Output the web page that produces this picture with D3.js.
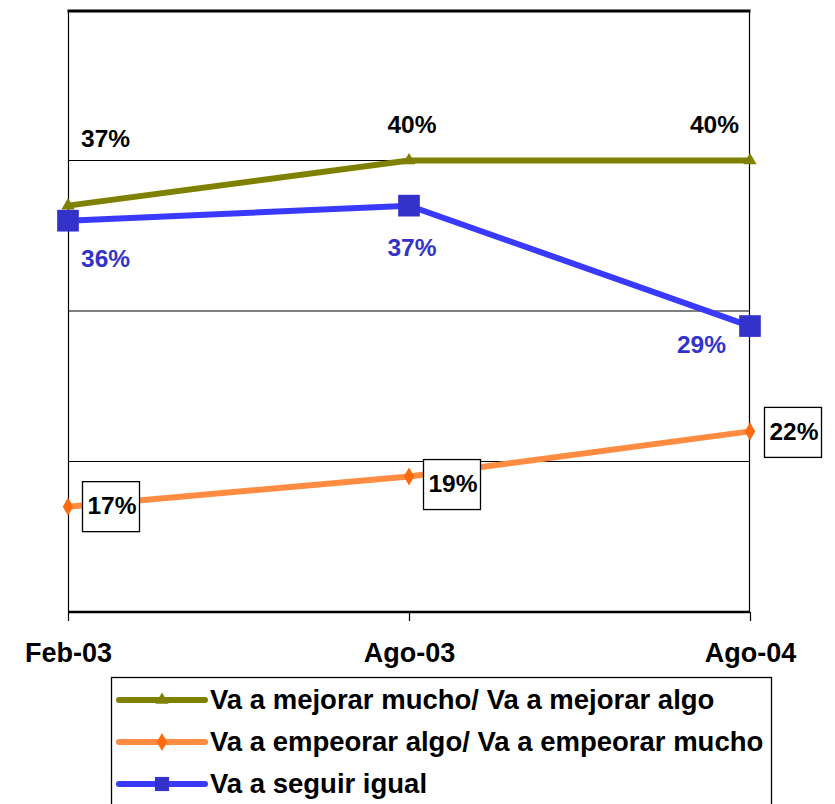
<!DOCTYPE html>
<html>
<head>
<meta charset="utf-8">
<script src="https://cdn.jsdelivr.net/npm/d3@7"></script>
<style>
  body { margin: 0; background: #fff; }
  text { font-family: "Liberation Sans", Arial, sans-serif; font-weight: bold; }
</style>
</head>
<body>
<svg id="chart" width="835" height="804"></svg>
<script>
"use strict"

// data
const periods = ["Feb-03", "Ago-03", "Ago-04"]
const mejorar = [37, 40, 40]
const empeorar = [17, 19, 22]
const igual = [36, 37, 29]
const seriesNames = [
    "Va a mejorar mucho/ Va a mejorar algo",
    "Va a empeorar algo/ Va a empeorar mucho",
    "Va a seguir igual"
]
const yTicks = [10, 20, 30, 40, 50]

const svg = d3.select("#chart")

let x = d3.scalePoint().domain(periods).range([68, 750]),
    y = d3.scaleLinear().domain([10, 50]).range([612, 10])

let line = d3.line()
    .x((d, i) => x(periods[i]))
    .y(d => y(d))

// gridlines (inner ones thin)
svg.append("g")
    .selectAll("line")
    .data(yTicks.slice(1, -1))
    .enter().append("line")
    .attr("x1", x.range()[0]).attr("x2", x.range()[1])
    .attr("y1", d => y(d)).attr("y2", d => y(d))
    .attr("stroke", "#000")
    .attr("stroke-width", 1.2)

// top border is heavier
svg.append("line")
    .attr("x1", 67.5).attr("x2", 750.5).attr("y1", y(50) + 1).attr("y2", y(50) + 1)
    .attr("stroke", "#000").attr("stroke-width", 3)

// left & right border
svg.append("line")
    .attr("x1", 68.5).attr("x2", 68.5).attr("y1", y(50)).attr("y2", y(10))
    .attr("stroke", "#000").attr("stroke-width", 1.2)
svg.append("line")
    .attr("x1", 749.5).attr("x2", 749.5).attr("y1", y(50)).attr("y2", y(10))
    .attr("stroke", "#000").attr("stroke-width", 1.2)

// bottom axis
let xAxis = d3.axisBottom(x).tickSize(9).tickPadding(22)
let gx = svg.append("g")
    .attr("transform", "translate(0," + y(10) + ")")
    .call(xAxis)
gx.select(".domain").attr("stroke-width", 2.5).attr("d", "M68,0H750")
gx.selectAll(".tick line").attr("stroke-width", 1.2)
gx.selectAll(".tick text")
    .attr("font-size", 27)
    .attr("font-family", "'Liberation Sans', Arial, sans-serif")
    .attr("font-weight", "bold")
    .attr("fill", "#000")

const series = [
    {name: seriesNames[0], values: mejorar, line: "#808000", fill: "#808000", symbol: d3.symbolTriangle, size: 75},
    {name: seriesNames[1], values: empeorar, line: "#FF8C40", fill: "#FF6A10", symbol: d3.symbolDiamond, size: 95},
    {name: seriesNames[2], values: igual, line: "#3a3aFF", fill: "#3333CC", symbol: d3.symbolSquare, size: 470}
]

// orange first, then green, blue squares sit on top
const drawOrder = [1, 0, 2]
drawOrder.forEach(k => {
    let s = series[k]
    svg.append("path")
        .attr("d", line(s.values))
        .attr("fill", "none")
        .attr("stroke", s.line)
        .attr("stroke-width", 6)
    svg.append("g")
        .selectAll("path")
        .data(s.values)
        .enter().append("path")
        .attr("transform", (d, i) => "translate(" + x(periods[i]) + "," + y(d) + ")")
        .attr("d", d3.symbol().type(s.symbol).size(s.size))
        .attr("fill", s.fill)
})

// labels, placed as in the original
const greenPos = [{dx: 13, dy: -59, a: "start"}, {dx: 3, dy: -28, a: "middle"}, {dx: -11, dy: -28, a: "end"}]
svg.append("g")
    .selectAll("text")
    .data(mejorar)
    .enter().append("text")
    .attr("x", (d, i) => x(periods[i]) + greenPos[i].dx)
    .attr("y", (d, i) => y(d) + greenPos[i].dy)
    .attr("text-anchor", (d, i) => greenPos[i].a)
    .attr("font-size", 24.5)
    .attr("fill", "#000")
    .text(d => d + "%")

const bluePos = [{dx: 13, dy: 46, a: "start"}, {dx: 3, dy: 50, a: "middle"}, {dx: -24, dy: 27, a: "end"}]
svg.append("g")
    .selectAll("text")
    .data(igual)
    .enter().append("text")
    .attr("x", (d, i) => x(periods[i]) + bluePos[i].dx)
    .attr("y", (d, i) => y(d) + bluePos[i].dy)
    .attr("text-anchor", (d, i) => bluePos[i].a)
    .attr("font-size", 24.5)
    .attr("fill", "#3333CC")
    .text(d => d + "%")

const orangeDy = [0, 8, 1]
let boxes = svg.append("g")
    .selectAll("g")
    .data(empeorar)
    .enter().append("g")
    .attr("transform", (d, i) => "translate(" + (x(periods[i]) + 14) + "," + (y(d) + orangeDy[i] - 25.5) + ")")
boxes.append("rect")
    .attr("x", 0.5).attr("y", 0.5)
    .attr("width", 57).attr("height", 50)
    .attr("fill", "#fff")
    .attr("stroke", "#000")
    .attr("stroke-width", 1.3)
boxes.append("text")
    .attr("x", 30).attr("y", 33)
    .attr("text-anchor", "middle")
    .attr("font-size", 24.5)
    .attr("fill", "#000")
    .text(d => d + "%")

// legend
let legend = svg.append("g").attr("transform", "translate(111,677)")
legend.append("rect")
    .attr("x", 0.5).attr("y", 0.5)
    .attr("width", 660).attr("height", 140)
    .attr("fill", "#fff")
    .attr("stroke", "#000")
    .attr("stroke-width", 1.3)

let rows = legend.selectAll("g.row")
    .data(series)
    .enter().append("g")
    .attr("class", "row")
    .attr("transform", (d, i) => "translate(0," + (23 + i * 42) + ")")
rows.append("line")
    .attr("x1", 8).attr("x2", 94)
    .attr("stroke", d => d.line)
    .attr("stroke-width", 6)
    .attr("stroke-linecap", "round")
rows.append("path")
    .attr("transform", "translate(51,0)")
    .attr("d", d => d3.symbol().type(d.symbol).size(d.symbol === d3.symbolSquare ? 200 : d.size)())
    .attr("fill", d => d.fill)
rows.append("text")
    .attr("x", 99).attr("y", 9)
    .attr("font-size", 27.5)
    .attr("fill", "#000")
    .text(d => d.name)
</script>
</body>
</html>
